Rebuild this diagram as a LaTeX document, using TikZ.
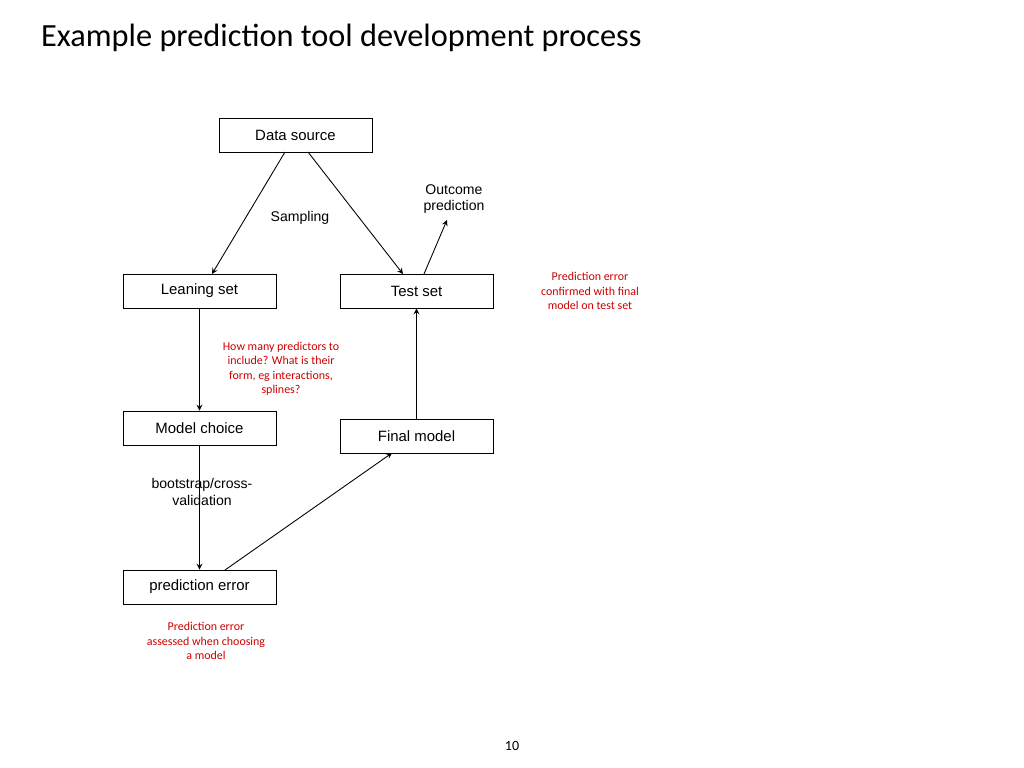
\documentclass[tikz,border=0pt]{standalone}
\usepackage{fontspec}
\setmainfont{Carlito}
\newfontfamily\boxfont{Liberation Sans}
\usetikzlibrary{arrows,positioning}
\tikzstyle{stagebox} = [draw, line width=0.5, minimum width=3.06cm, minimum height=0.68cm,
  inner sep=0pt, font=\boxfont\fontsize{8.5}{10}\selectfont]
\tikzstyle{note} = [align=center, font=\boxfont\fontsize{8}{9.5}\selectfont]
\tikzstyle{rednote} = [align=center, red!80!black, font=\fontsize{6.8}{8.2}\selectfont]
\tikzstyle{flow} = [->, >=stealth, line width=0.5]

\begin{document}
\begin{tikzpicture}
  \useasboundingbox (0, 0) rectangle (20.48, -15.36);
  \path (0.7, -0.76) node[right, font=\fontsize{18.4}{22}\selectfont] {Example prediction tool development process};

  \node[stagebox] (source) at (5.91, -2.70) {Data source};
  \node[stagebox] (learn) at (3.99, -5.82) {Leaning set};
  \node[stagebox] (test) at (8.33, -5.82) {Test set};
  \node[stagebox] (choice) at (3.99, -8.56) {Model choice};
  \node[stagebox] (final) at (8.33, -8.72) {Final model};
  \node[stagebox] (error) at (3.99, -11.74) {prediction error};

  \coordinate (outcome) at (8.94, -4.40);
  \node[note] (outlabel) at (9.08, -3.98) {Outcome\\prediction};

  \draw[flow] (5.70, -3.04) -- (4.24, -5.48);
  \draw[flow] (6.16, -3.04) -- (8.06, -5.48);
  \draw[flow] (8.48, -5.48) -- (outcome);
  \draw[flow] (learn) -- (choice);
  \draw[flow] (choice) -- (error);
  \draw[flow] (4.50, -11.40) -- (7.84, -9.06);
  \draw[flow] (final) -- (test);

  \node[note] (sampling) at (6.00, -4.36) {Sampling};
  \node[note] (resample) at (4.04, -9.84) {bootstrap/cross-\\validation};

  \node[rednote] (howmany) at (5.62, -7.38) {How many predictors to\\include? What is their\\form, eg interactions,\\splines?};
  \node[rednote] (confirm) at (11.80, -5.82) {Prediction error\\confirmed with final\\model on test set};
  \node[rednote] (assess) at (4.12, -12.82) {Prediction error\\assessed when choosing\\a model};

  \node[font=\fontsize{8}{10}\selectfont] (page) at (10.24, -14.92) {10};
\end{tikzpicture}
\end{document}
